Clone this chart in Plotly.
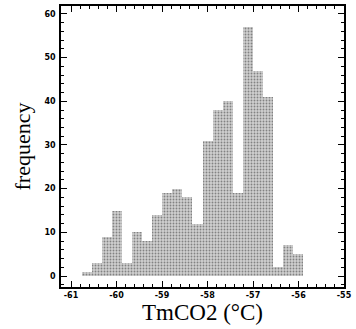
import plotly.graph_objects as go

# Histogram data (bin start, bin width, counts)
bin_start = -60.75
bin_width = 0.22
counts = [1, 3, 9, 15, 3, 10, 8, 14, 19, 20, 18, 12, 31, 38, 40, 19, 57, 47, 41, 2, 7, 5]
x_ticks = [-61, -60, -59, -58, -57, -56, -55]
x_ticktext = ["-61", "-60", "-59", "-58", "-57", "-56", "-55"]
y_ticks = [0, 10, 20, 30, 40, 50, 60]

centers = [bin_start + bin_width * (i + 0.5) for i in range(len(counts))]

fig = go.Figure()
fig.add_trace(go.Bar(
    x=centers, y=counts, width=bin_width,
    marker=dict(color="#a8a8a8", line=dict(width=0),
                pattern=dict(shape=".", fgcolor="#333333", bgcolor="#d0d0d0",
                             size=3, solidity=0.3)),
    showlegend=False,
))

tickfont = dict(family="DejaVu Sans", size=8, color="black", weight="bold")
fig.update_layout(
    width=356, height=329,
    margin=dict(l=61, r=10, t=4, b=42),
    paper_bgcolor="white", plot_bgcolor="white",
    bargap=0,
    xaxis=dict(range=[-61.22, -55], tickvals=x_ticks, ticktext=x_ticktext,
               showline=True, linecolor="black", linewidth=1.5, mirror="ticks",
               ticks="inside", ticklen=6, tickwidth=1, tickcolor="black",
               minor=dict(dtick=0.2, ticks="inside", ticklen=3, tickcolor="black", tick0=-61),
               showgrid=False, zeroline=False, tickfont=tickfont,
               title=dict(text="TmCO2 (°C)", font=dict(family="Liberation Serif", size=23, color="black"),
                          standoff=5)),
    yaxis=dict(range=[-2.5, 61.8], tickvals=y_ticks,
               showline=True, linecolor="black", linewidth=1.5, mirror="ticks",
               ticks="inside", ticklen=6, tickwidth=1, tickcolor="black",
               minor=dict(dtick=2, ticks="inside", ticklen=3, tickcolor="black"),
               showgrid=False, zeroline=False, tickfont=tickfont,
               ticklabelstandoff=2,
               title=dict(text="frequency", font=dict(family="Liberation Serif", size=22, color="black"),
                          standoff=8)),
)
fig.write_html("out.html")
